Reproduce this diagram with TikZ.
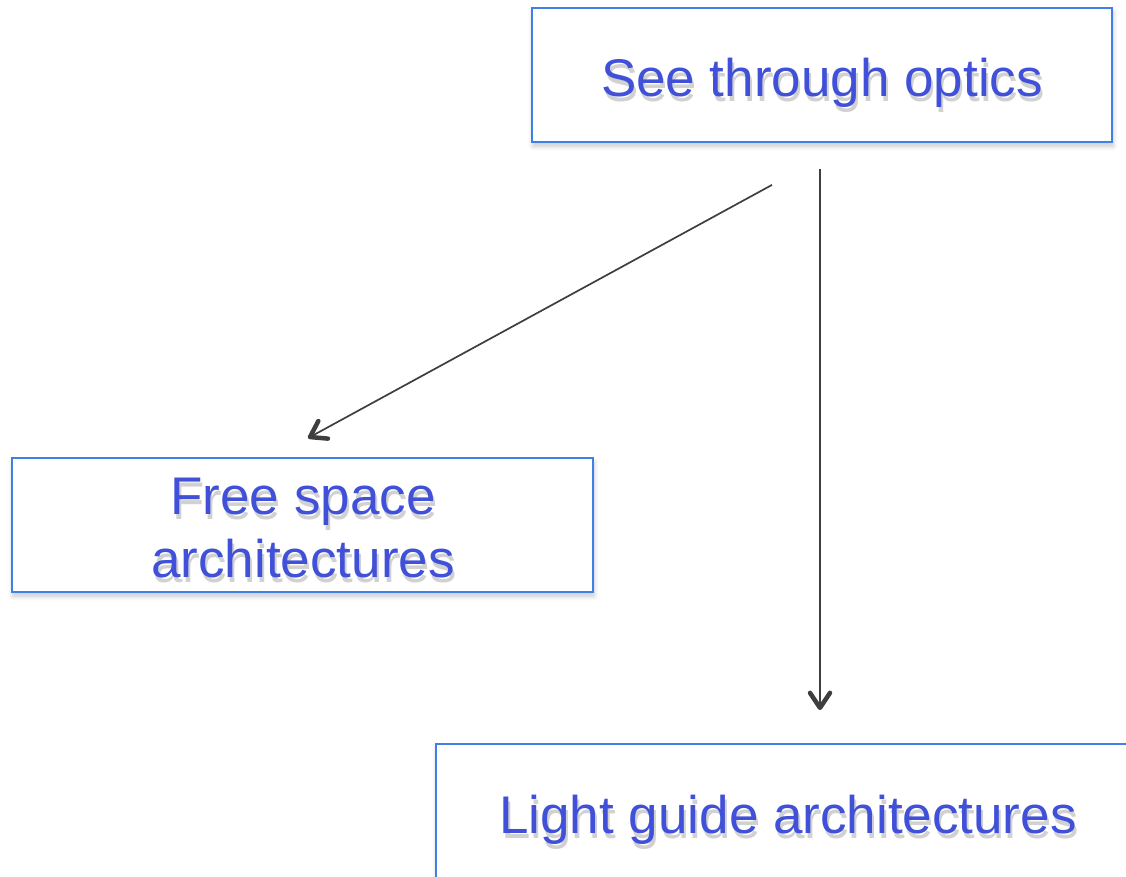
\documentclass[tikz,border=0pt]{standalone}
\usepackage{fontspec}
\setmainfont{Liberation Sans}
\usetikzlibrary{arrows.meta,shadows.blur,calc}
\definecolor{boxblue}{RGB}{62,128,230}
\definecolor{labelblue}{RGB}{64,80,216}
\definecolor{linegray}{RGB}{62,62,62}
\tikzset{
  x=1pt, y=-1pt,
  box/.style={draw=boxblue, line width=1.8pt, fill=white, inner sep=0pt,
    blur shadow={shadow xshift=1pt, shadow yshift=-4pt, shadow blur steps=6,
      shadow blur radius=5pt, shadow opacity=22}},
  label text/.style={text=labelblue, inner sep=0pt, anchor=base, align=center,
    font=\fontsize{53}{63}\selectfont},
  label shadow/.style={text=black, opacity=0.18, inner sep=0pt, anchor=base,
    align=center, font=\fontsize{53}{63}\selectfont},
  link/.style={draw=linegray, line width=1.7pt,
    -{Straight Barb[length=15pt,width=20pt,line width=4.5pt 0,round]}}
}
% label with a soft drop shadow underneath
\newcommand{\shadowedtext}[3]{%
  \node[label shadow] at ($(#1)+(2,5)$) {#3};
  \node[label text] (#2) at (#1) {#3};}
\begin{document}
\begin{tikzpicture}
\useasboundingbox (0,0) rectangle (1126,877);
\begin{scope}
\clip (0,0) rectangle (1126,877);
% boxes
\node[box, minimum width=580pt, minimum height=134pt] (top) at (822,75) {};
\node[box, minimum width=581pt, minimum height=134pt] (free) at (302.5,525) {};
\node[box, minimum width=704pt, minimum height=140pt] (light) at (788,814) {};
% labels (anchored at the baseline of their last line)
\coordinate (toppos) at (822,97);
\coordinate (freepos) at (303,577);
\coordinate (lightpos) at (788,833);
\shadowedtext{toppos}{toptext}{See through optics}
\shadowedtext{freepos}{freetext}{Free space\\architectures}
\shadowedtext{lightpos}{lighttext}{Light guide architectures}
% connectors
\draw[link] ([xshift=-50pt,yshift=-42pt]top.south) -- ([xshift=5.5pt,yshift=19pt]free.north);
\draw[link] ([xshift=-2pt,yshift=-26pt]top.south) -- ([xshift=32pt,yshift=33pt]light.north);
\end{scope}
\end{tikzpicture}
\end{document}
